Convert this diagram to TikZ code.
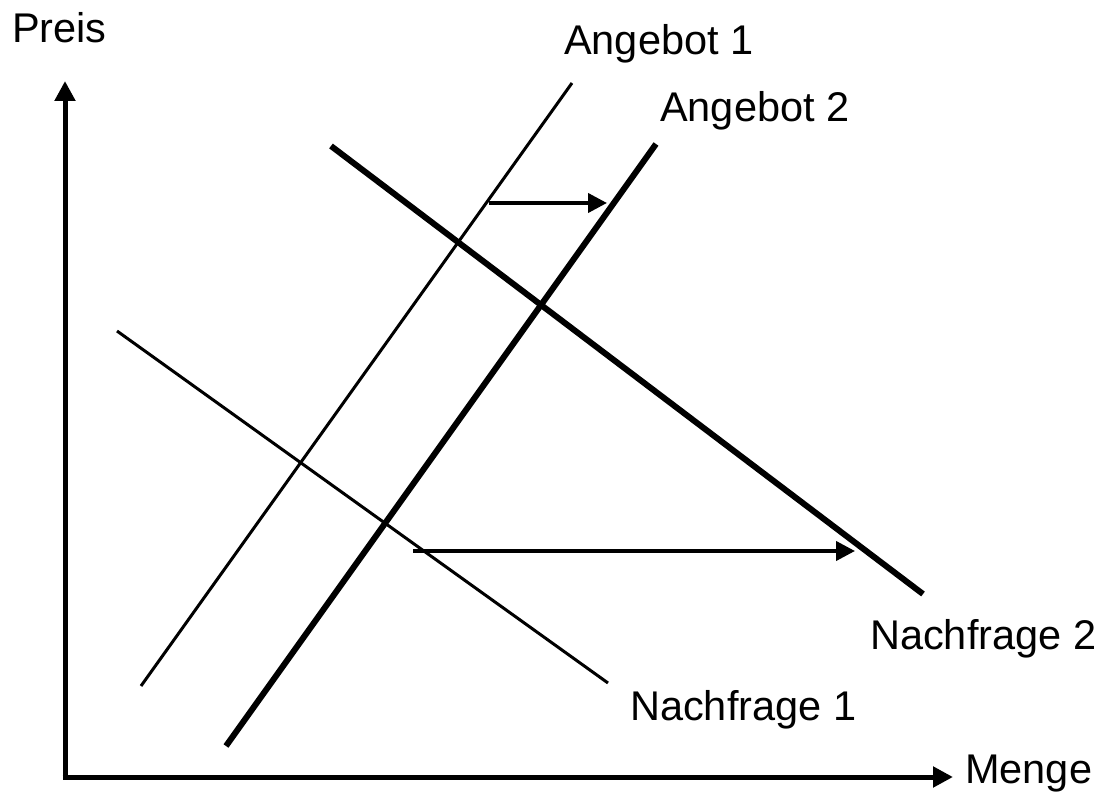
\documentclass[tikz,border=0pt]{standalone}
\usepackage{fontspec}
\setmainfont{Liberation Sans}
\usetikzlibrary{arrows.meta}
\begin{document}
\begin{tikzpicture}[x=1pt,y=-1pt,
  lbl/.style={anchor=base west,inner sep=0pt,font=\fontsize{41.5}{50}\selectfont},
  thinline/.style={line width=3pt},
  thickline/.style={line width=6pt},
  axis/.style={line width=5pt,-{Triangle[length=20pt,width=20pt]}},
  shift arrow/.style={line width=4pt,-{Triangle[length=19pt,width=19pt]}}]
\useasboundingbox (0,0) rectangle (1109,794);
% axes
\coordinate (O) at (65,777);
\coordinate (ytip) at (65,81);
\coordinate (xtip) at (953,777);
\draw[axis] ([yshift=2.5pt]O) -- (ytip);
\draw[axis] ([xshift=-2.5pt]O) -- (xtip);
% curves
\coordinate (a1s) at (141,686);
\coordinate (a1e) at (572,83);
\coordinate (a2s) at (226,746);
\coordinate (a2e) at (656,144);
\coordinate (n1s) at (117,331);
\coordinate (n1e) at (608,683);
\coordinate (n2s) at (331,146);
\coordinate (n2e) at (923,594);
\draw[thinline] (a1s) -- (a1e);
\draw[thickline] (a2s) -- (a2e);
\draw[thinline] (n1s) -- (n1e);
\draw[thickline] (n2s) -- (n2e);
% shift arrows
\coordinate (s1s) at (489,203);
\coordinate (s1e) at (607,203);
\coordinate (s2s) at (413,551);
\coordinate (s2e) at (855,551);
\draw[shift arrow] (s1s) -- (s1e);
\draw[shift arrow] (s2s) -- (s2e);
% labels
\node[lbl] (preis) at (12,43) {Preis};
\node[lbl] (menge) at (965,783) {Menge};
\node[lbl] (ang1) at (564,55) {Angebot 1};
\node[lbl] (ang2) at (660,122) {Angebot 2};
\node[lbl] (nf1) at (630,720) {Nachfrage 1};
\node[lbl] (nf2) at (870,649) {Nachfrage 2};
\end{tikzpicture}
\end{document}
